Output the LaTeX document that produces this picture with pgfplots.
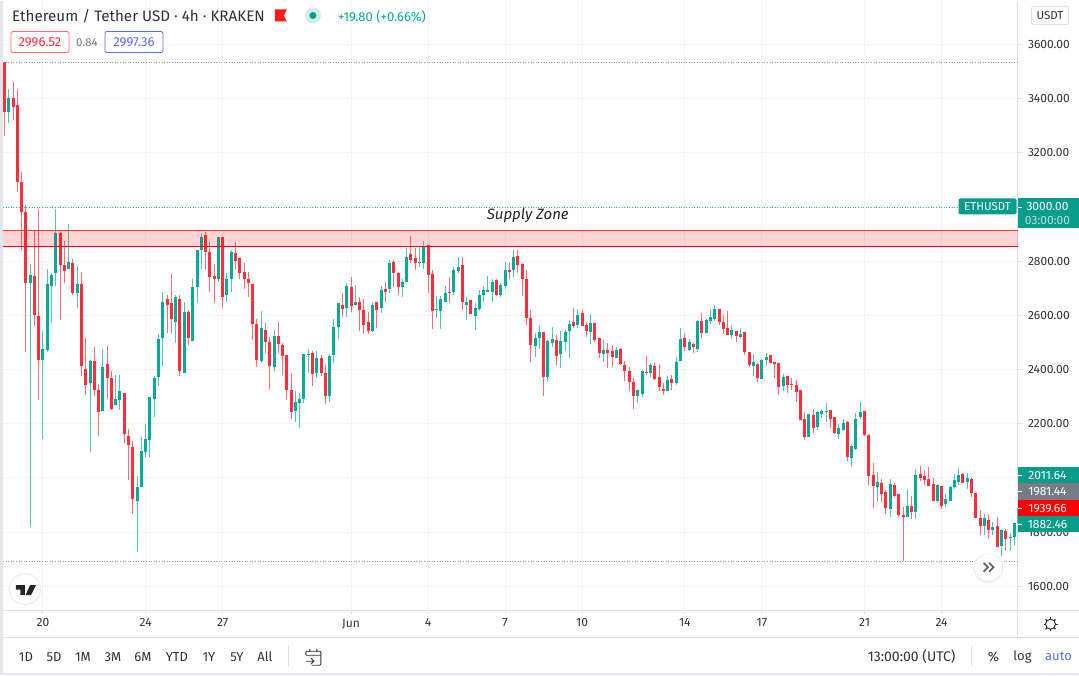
\documentclass[border=0pt]{standalone}
\usepackage{pgfplots}
\usepackage{pgfplotstable}
\usepackage{fontspec}
\setmainfont{Fira Sans}
\pgfplotsset{compat=1.18}
\definecolor{cred}{HTML}{FF2E3B}
\definecolor{cgreen}{HTML}{05AB98}
\definecolor{wred}{HTML}{FF6A72}
\definecolor{wgreen}{HTML}{52C2B5}
\definecolor{lgreen}{HTML}{089C8C}
\definecolor{gridc}{HTML}{F1F3F7}
\definecolor{linec}{HTML}{DDE0E8}
\definecolor{textc}{HTML}{2F323A}
\definecolor{bluec}{HTML}{5B6BFA}
\definecolor{grayl}{HTML}{787B86}
\definecolor{dotgray}{HTML}{9A9DA6}
\definecolor{dotgreen}{HTML}{2FB8A8}
\newcommand\fs[1]{\fontsize{#1}{#1}\selectfont}
\pgfplotstableread{
k o h l c
0 3534 3537 3261 3349
2 3404 3463 3323 3371
3 3378 3437 3057 3091
4 3091 3128 2840 2980
5 2983 3006 2464 2718
7 2744 2910 2560 2601
8 2597 2994 2286 2434
13 2903 2907 2582 2785
14 2785 2873 2718 2762
16 2792 2807 2677 2681
18 2714 2759 2375 2412
19 2401 2515 2305 2342
21 2430 2482 2301 2326
22 2326 2345 2154 2242
24 2419 2486 2293 2367
25 2367 2393 2250 2253
28 2312 2312 2128 2161
29 2154 2179 1991 2121
30 2113 2135 1866 1921
38 2659 2674 2534 2640
39 2644 2751 2534 2585
41 2662 2674 2375 2393
43 2612 2619 2489 2515
47 2896 2907 2766 2833
48 2833 2870 2688 2740
49 2744 2788 2644 2736
51 2888 2888 2629 2666
54 2829 2870 2773 2799
55 2810 2810 2736 2755
56 2759 2792 2699 2733
57 2733 2759 2666 2718
58 2714 2714 2508 2567
59 2567 2585 2408 2434
61 2545 2571 2460 2501
62 2501 2519 2330 2412
64 2523 2575 2460 2493
65 2489 2497 2379 2449
66 2453 2453 2286 2326
67 2323 2386 2217 2242
72 2460 2467 2338 2382
74 2441 2453 2375 2386
75 2386 2416 2271 2301
79 2640 2681 2593 2622
81 2703 2740 2612 2633
83 2651 2666 2541 2619
84 2619 2662 2530 2563
85 2575 2612 2530 2541
87 2648 2651 2552 2619
89 2699 2722 2651 2685
91 2796 2803 2703 2755
92 2755 2759 2674 2703
95 2825 2892 2792 2803
96 2810 2847 2766 2792
99 2858 2858 2681 2748
100 2751 2766 2549 2615
104 2685 2740 2644 2681
107 2785 2814 2619 2648
109 2655 2655 2604 2604
115 2729 2736 2670 2674
118 2766 2792 2736 2759
120 2818 2843 2755 2785
121 2788 2792 2670 2733
122 2736 2766 2563 2589
123 2589 2619 2427 2489
126 2537 2537 2301 2371
129 2508 2526 2416 2449
133 2575 2626 2552 2560
135 2608 2619 2560 2560
136 2563 2575 2519 2541
138 2571 2571 2501 2508
139 2515 2515 2441 2460
141 2471 2497 2404 2460
142 2467 2489 2408 2445
144 2475 2478 2416 2419
145 2416 2430 2356 2393
146 2393 2408 2319 2353
147 2353 2367 2253 2301
150 2390 2449 2379 2386
152 2412 2423 2360 2364
153 2371 2419 2319 2334
154 2330 2349 2305 2319
156 2364 2379 2326 2349
159 2515 2534 2467 2482
161 2493 2497 2460 2482
163 2578 2608 2515 2534
167 2622 2622 2563 2575
168 2575 2601 2530 2549
169 2552 2615 2526 2526
171 2541 2541 2501 2523
173 2537 2537 2453 2464
174 2464 2464 2408 2416
176 2419 2423 2353 2367
179 2453 2453 2423 2423
180 2427 2427 2367 2419
181 2423 2423 2305 2334
183 2375 2375 2312 2342
184 2345 2367 2323 2342
185 2342 2360 2279 2316
186 2323 2323 2213 2213
187 2217 2242 2139 2150
189 2231 2253 2165 2183
193 2250 2250 2183 2217
194 2224 2224 2161 2165
197 2205 2209 2061 2076
201 2246 2246 2154 2157
202 2157 2161 1973 2006
203 2010 2054 1888 1969
205 1980 1995 1910 1939
206 1947 1954 1866 1888
208 1973 1980 1928 1935
209 1939 1939 1855 1862
210 1862 1891 1692 1855
212 1895 1932 1847 1873
214 2013 2043 1987 1999
215 2006 2028 1973 1991
216 1995 2039 1969 1969
217 1976 1999 1913 1913
219 1969 1969 1884 1895
224 2013 2017 1980 1980
226 1995 1999 1928 1943
227 1943 1943 1851 1851
228 1851 1881 1788 1822
230 1844 1866 1773 1807
232 1822 1855 1744 1744
234 1803 1810 1729 1774
}\redcandles
\pgfplotstableread{
k o h l c
1 3349 3434 3312 3404
6 2718 2788 1818 2748
9 2434 2541 2142 2475
10 2471 2773 2464 2714
11 2707 2755 2571 2748
12 2755 2991 2707 2903
15 2770 2936 2770 2796
17 2681 2781 2626 2714
20 2349 2434 2095 2430
23 2246 2475 2246 2408
26 2268 2379 2268 2290
27 2286 2379 2250 2319
31 1913 2006 1726 1965
32 1965 2150 1965 2098
33 2095 2198 2076 2142
34 2139 2297 2076 2297
35 2290 2375 2224 2367
36 2371 2530 2338 2512
37 2515 2685 2412 2651
40 2575 2674 2497 2666
42 2386 2651 2386 2612
44 2504 2733 2504 2703
45 2703 2843 2644 2840
46 2843 2903 2773 2888
50 2733 2888 2722 2888
52 2677 2755 2648 2736
53 2733 2840 2685 2833
60 2430 2615 2423 2552
63 2408 2545 2393 2523
68 2246 2319 2205 2279
69 2275 2312 2183 2293
70 2293 2456 2275 2456
71 2453 2475 2386 2456
73 2386 2467 2367 2441
76 2301 2456 2279 2449
77 2453 2585 2423 2556
78 2556 2644 2511 2644
80 2626 2718 2593 2707
82 2637 2711 2637 2651
86 2541 2648 2537 2637
88 2629 2707 2608 2692
90 2696 2803 2681 2792
93 2703 2733 2666 2725
94 2722 2847 2722 2814
97 2792 2851 2777 2796
98 2792 2873 2773 2855
101 2619 2670 2589 2622
102 2615 2670 2549 2662
103 2651 2707 2651 2681
105 2685 2777 2674 2766
106 2762 2814 2755 2777
108 2637 2666 2582 2651
110 2597 2644 2545 2629
111 2622 2692 2615 2674
112 2674 2707 2648 2692
113 2688 2744 2688 2692
114 2688 2736 2651 2722
116 2674 2718 2666 2711
117 2707 2796 2699 2766
119 2766 2840 2740 2814
124 2486 2534 2445 2515
125 2515 2563 2475 2537
127 2371 2508 2353 2504
128 2497 2556 2482 2511
130 2456 2541 2404 2504
131 2501 2545 2467 2537
132 2541 2582 2441 2567
134 2563 2622 2552 2601
137 2537 2604 2493 2571
140 2456 2508 2427 2471
143 2441 2482 2441 2471
148 2301 2330 2275 2326
149 2308 2397 2297 2393
151 2386 2423 2371 2416
155 2319 2375 2319 2360
157 2349 2445 2342 2427
158 2430 2552 2430 2511
160 2471 2511 2467 2501
162 2475 2582 2464 2578
164 2534 2585 2534 2582
165 2578 2622 2567 2593
166 2585 2640 2578 2622
170 2526 2563 2511 2545
172 2519 2552 2515 2530
175 2412 2456 2375 2427
177 2364 2438 2364 2434
178 2434 2460 2412 2445
182 2338 2382 2319 2371
188 2150 2235 2150 2235
190 2187 2246 2176 2242
191 2235 2253 2220 2246
192 2242 2275 2205 2246
195 2161 2198 2142 2183
196 2176 2217 2172 2202
198 2072 2124 2039 2117
199 2106 2239 2102 2217
200 2224 2279 2217 2242
204 1965 2021 1910 1984
207 1884 1995 1855 1976
211 1855 1958 1855 1895
213 1873 2032 1847 2010
218 1913 1976 1906 1973
220 1902 1939 1891 1921
221 1913 1969 1913 1965
222 1965 2013 1958 1991
223 1984 2036 1973 2010
225 1984 2017 1958 1999
229 1822 1866 1788 1851
231 1807 1836 1788 1818
233 1748 1810 1711 1807
235 1777 1796 1729 1781
236 1781 1832 1751 1832
237 1832 1890 1810 1888
}\greencandles
\begin{document}
\begin{tikzpicture}
\begin{scope}[x=1pt,y=-1pt]
\path[use as bounding box,fill=white] (0,0) rectangle (1079,675);
\fill[linec!80] (0,0) rectangle (3,675);
\fill[linec!80] (0,673) rectangle (1079,675);
\end{scope}
\begin{axis}[
  at={(3pt,-610pt)}, anchor=south west,
  scale only axis, width=1015pt, height=610pt,
  xmin=-0.34, xmax=236.75, ymin=1511.5, ymax=3762.4,
  axis x line*=bottom, axis y line*=right,
  axis line style={linec, line width=1pt},
  xtick={9,33,51,81,99,117,135,159,177,201,219},
  xticklabels={20,24,27,Jun,4,7,10,14,17,21,24},
  ytick={1600,1800,2000,2200,2400,2600,2800,3000,3200,3400,3600},
  yticklabels={1600.00,1800.00,,2200.00,2400.00,2600.00,2800.00,,3200.00,3400.00,3600.00},
  grid=major,
  major grid style={gridc, line width=1pt},
  tick align=outside, major tick length=4pt,
  tick style={linec, line width=1pt},
  ticklabel style={font=\fs{12}, text=textc},
  yticklabel style={anchor=west, xshift=3pt},
  xticklabel style={anchor=north, yshift=-1pt},
]
% horizontal levels, kept as axis positions and drawn after the axis
\coordinate (topL) at (axis cs:-0.34,3534);
\coordinate (topR) at (axis cs:236.75,3534);
\coordinate (botL) at (axis cs:-0.34,1692);
\coordinate (botR) at (axis cs:236.75,1692);
\coordinate (midL) at (axis cs:-0.34,3000);
\coordinate (midR) at (axis cs:236.75,3000);
\coordinate (zaL) at (axis cs:-0.34,2913);
\coordinate (zaR) at (axis cs:236.75,2913);
\coordinate (zbL) at (axis cs:-0.34,2853);
\coordinate (zbR) at (axis cs:236.75,2853);
% wicks
\addplot[draw=none, mark=none, forget plot, error bars/.cd, y dir=both, y explicit, error mark=none,
  error bar style={draw=wred, line width=1pt}]
  table[x=k, y=o, y error plus expr=\thisrow{h}-\thisrow{o}, y error minus expr=\thisrow{o}-\thisrow{l}] {\redcandles};
\addplot[draw=none, mark=none, forget plot, error bars/.cd, y dir=both, y explicit, error mark=none,
  error bar style={draw=wgreen, line width=1pt}]
  table[x=k, y=o, y error plus expr=\thisrow{h}-\thisrow{o}, y error minus expr=\thisrow{o}-\thisrow{l}] {\greencandles};
% bodies
\addplot[draw=none, mark=none, forget plot, error bars/.cd, y dir=both, y explicit, error mark=none,
  error bar style={draw=cred, line width=3pt}]
  table[x=k, y=o, y error plus expr=0, y error minus expr=\thisrow{o}-\thisrow{c}] {\redcandles};
\addplot[draw=none, mark=none, forget plot, error bars/.cd, y dir=both, y explicit, error mark=none,
  error bar style={draw=cgreen, line width=3pt}]
  table[x=k, y=o, y error plus expr=\thisrow{c}-\thisrow{o}, y error minus expr=0] {\greencandles};
\end{axis}
\begin{scope}[x=1pt,y=-1pt]
% levels and supply zone
\draw[dotgray, line width=0.9pt, dash pattern=on 1pt off 1.6pt] (topL) -- (topR);
\draw[dotgray, line width=0.9pt, dash pattern=on 1pt off 1.6pt] (botL) -- (botR);
\draw[dotgreen, line width=0.9pt, dash pattern=on 1pt off 1.6pt] (midL) -- (midR);
\fill[red, fill opacity=0.17] (zaL) rectangle (zbR);
\draw[red!80, line width=1pt] (zaL) -- (zaR);
\draw[red, line width=1pt] (zbL) -- (zbR);
% frame lines
\draw[linec, line width=1pt] (3,610) -- (1079,610);
\draw[linec, line width=1pt] (3,637.5) -- (1079,637.5);
\draw[linec, line width=1pt] (1018,610) -- (1018,637.5);
% header
\node[anchor=west, inner sep=0pt, text=textc, font=\fs{15.2}] at (12,15.5) {Ethereum / Tether USD · 4h · KRAKEN};
\fill[red!90!white] (275,9) -- (287,9) -- (284,15) -- (287,21) -- (275,21) -- cycle;
\fill[lgreen!18] (313,15) circle (8);
\fill[lgreen] (313,15) circle (3.5);
\node[anchor=west, inner sep=0pt, text=cgreen, font=\fs{13}] at (338,16) {+19.80 (+0.66\%)};
\draw[wred, rounded corners=2pt, line width=0.8pt, fill=white] (11,31) rectangle (69,52);
\node[text=cred, font=\fs{13}, inner sep=0pt] at (40,42) {2996.52};
\node[text=grayl, font=\fs{11.5}, inner sep=0pt] at (87,42) {0.84};
\draw[bluec, rounded corners=2pt, line width=0.8pt, fill=white] (105,31) rectangle (163,52);
\node[text=bluec, font=\fs{13}, inner sep=0pt] at (134,42) {2997.36};
\draw[linec, rounded corners=2pt, line width=0.8pt, fill=white] (1032,6) rectangle (1069,24);
\node[text=textc, font=\fs{11.5}, inner sep=0pt] at (1050.5,15) {USDT};
% supply zone label
\node[text=black!85, font=\fs{15}\itshape, inner sep=0pt] at (528,215) {Supply Zone};
% symbol and price labels
\fill[lgreen, rounded corners=1.5pt] (959,198) rectangle (1017,214);
\node[text=white, font=\fs{11.5}, inner sep=0pt] at (988,206) {ETHUSDT};
\fill[lgreen] (1018,198) rectangle (1079,228);
\draw[white, line width=0.8pt] (1018,206.5) -- (1022,206.5);
\node[text=white, font=\fs{12}, inner sep=0pt] at (1048,206.5) {3000.00};
\node[text=white!70!lgreen, font=\fs{12}, inner sep=0pt] at (1048,220) {03:00:00};
\fill[lgreen] (1018,467) rectangle (1079,483);
\fill[grayl] (1018,483) rectangle (1079,499.5);
\fill[red] (1018,499.5) rectangle (1079,516);
\fill[lgreen] (1018,516) rectangle (1079,532);
\draw[white, line width=0.8pt] (1018,475) -- (1022,475) (1018,491) -- (1022,491) (1018,508) -- (1022,508) (1018,524) -- (1022,524);
\node[text=white, font=\fs{12}, inner sep=0pt] at (1048,475) {2011.64};
\node[text=white, font=\fs{12}, inner sep=0pt] at (1048,491.5) {1981.44};
\node[text=white, font=\fs{12}, inner sep=0pt] at (1048,508) {1939.66};
\node[text=white, font=\fs{12}, inner sep=0pt] at (1048,524) {1882.46};
% logo
\draw[linec!70, fill=white, line width=0.8pt] (25,589) circle (15.5);
\fill[black!85] (16,585) -- (25,585) -- (25,595) -- (20.5,595) -- (20.5,589.5) -- (16,589.5) -- cycle;
\fill[black!85] (30,585) -- (36,585) -- (31,595) -- (25.5,595) -- cycle;
% scroll button
\fill[black!6] (989,568) circle (15);
\fill[white] (989,567) circle (13.5);
\draw[textc!80, line width=1.5pt] (984,562.5) -- (988.5,567) -- (984,571.5) (989.5,562.5) -- (994,567) -- (989.5,571.5);
% gear
\draw[textc, line width=1pt] (1051,624) circle (5);
\foreach \a in {0,45,...,315} \draw[textc, line width=1.3pt] (1051,624) ++(\a:5) -- ++(\a:2);
% toolbar
\foreach \t/\x in {1D/26,5D/54,1M/83,3M/113,6M/143,YTD/177,1Y/209,5Y/237,All/265}
  \node[text=textc, font=\fs{13}, inner sep=0pt] at (\x,656.5) {\t};
\draw[linec, line width=0.8pt] (289,645) -- (289,667);
\draw[textc, line width=0.9pt, rounded corners=1pt] (306,655) -- (306,651) -- (321,651) -- (321,665) -- (312,665);
\draw[textc, line width=0.9pt] (306,655) -- (321,655) (310,649) -- (310,652) (317,649) -- (317,652) (306,661) -- (314,661) (311,658) -- (314,661) -- (311,664);
\node[text=textc, font=\fs{14}, inner sep=0pt] at (912,656.5) {13:00:00 (UTC)};
\draw[linec, line width=0.8pt] (972,645) -- (972,667);
\node[text=textc, font=\fs{13.5}, inner sep=0pt] at (994,656.5) {\%};
\node[text=textc, font=\fs{13}, inner sep=0pt] at (1023,656.5) {log};
\node[text=bluec, font=\fs{13}, inner sep=0pt] at (1059,656.5) {auto};
\end{scope}
\end{tikzpicture}
\end{document}
